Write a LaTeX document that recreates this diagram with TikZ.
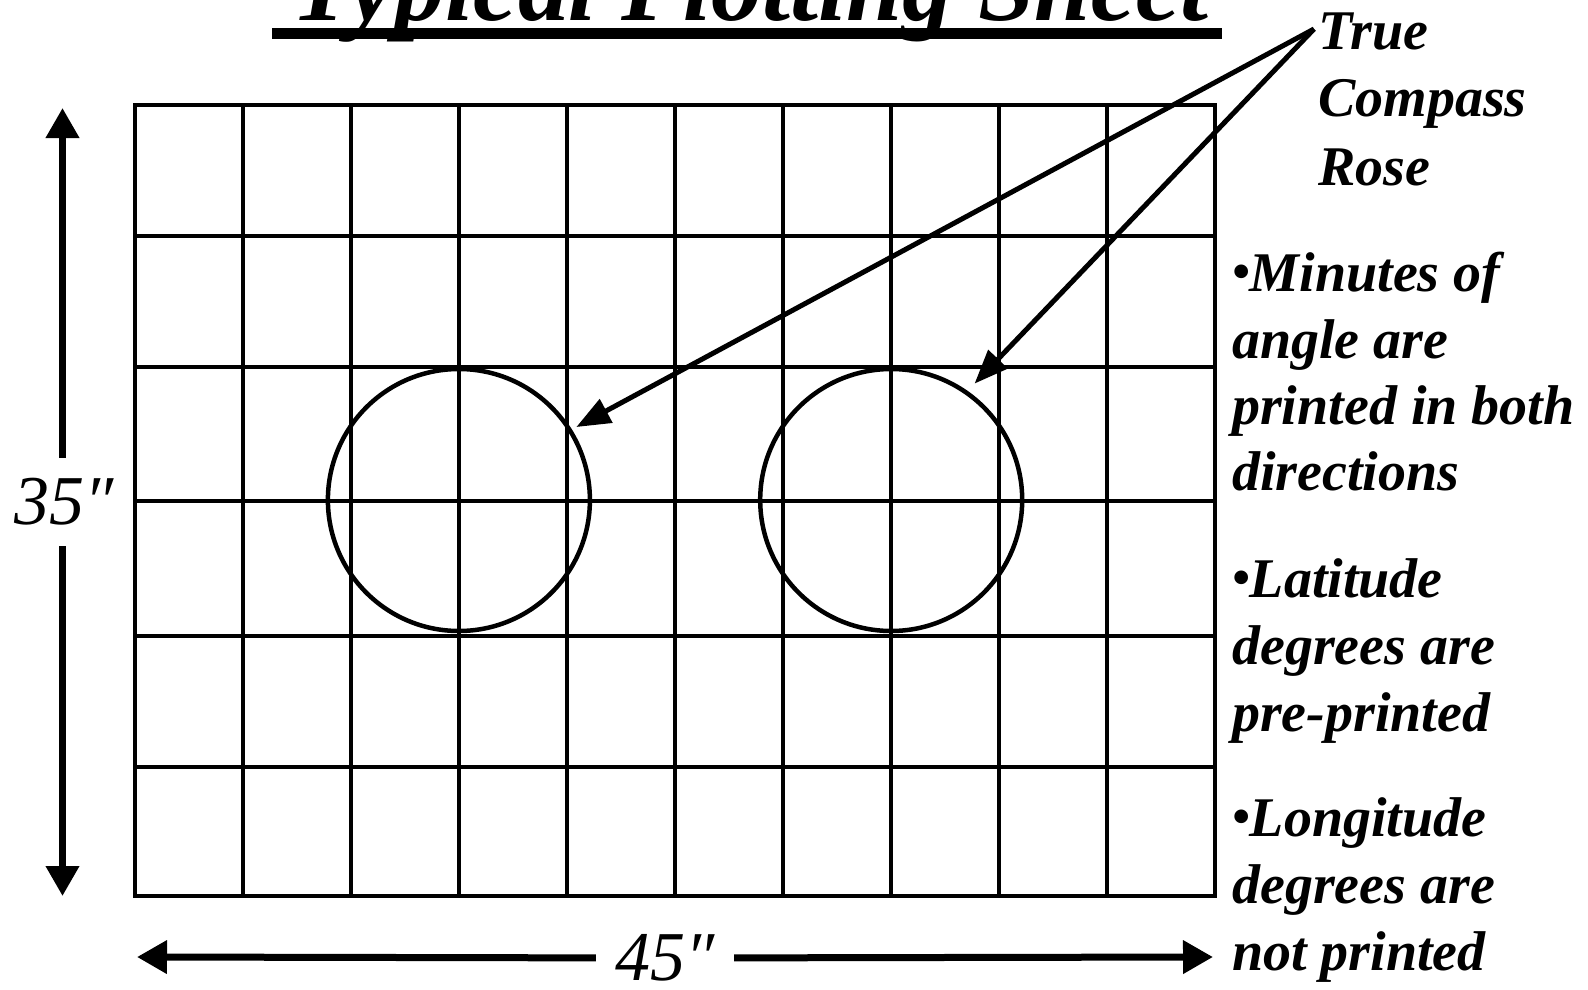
\documentclass[tikz,border=0pt]{standalone}
\usepackage{fontspec}
\setmainfont{Liberation Serif}
\usepackage{graphicx}
\usetikzlibrary{arrows.meta}
\newcommand{\smallbul}{\raisebox{0.04em}{\scalebox{0.9}{•}}}
\begin{document}
\begin{tikzpicture}[x=1pt,y=-1pt,
  gridline/.style={line width=4pt, line cap=rect},
  rose/.style={circle, draw, line width=4.5pt, minimum size=262pt, inner sep=0pt},
  callout/.style={line width=5pt, -{Triangle[length=34pt,width=26pt]}},
  dimarrow/.style={line width=7pt, -{Triangle[length=30pt,width=32pt]}},
  dimlabel/.style={inner sep=0pt, font=\itshape\fontsize{70}{70}\selectfont},
  note/.style={anchor=base west, inner sep=0pt, font=\bfseries\itshape\fontsize{56}{67}\selectfont},
]
\useasboundingbox (0,0) rectangle (1588,990);
\fill[white] (0,0) rectangle (1588,990);

% title
\node[anchor=base, inner sep=0pt, font=\bfseries\itshape\fontsize{101}{101}\selectfont] (title) at (750,21) {Typical Plotting Sheet};
\draw[line width=11pt] (272,33.5) -- (1222,33.5);

% grid
\foreach \i in {0,...,10}
  \draw[gridline] ({134.7+108.07*\i},105.3) -- ({134.7+108.07*\i},896.3);
\foreach \y in {105.3,236,366.6,501.3,636,766.7,896.3}
  \draw[gridline] (134.7,\y) -- (1215.4,\y);

% compass roses
\node[rose] (cL) at (458.9,500) {};
\node[rose] (cR) at (891.2,500) {};

% callout arrows
\coordinate (src) at (1314,29);
\draw[callout, shorten >=5pt] (src) -- (cL.32);
\draw[callout, shorten >=10pt] (src) -- (cR.55);

% dimension 35"
\coordinate (vtop) at (62.5,108);
\coordinate (vbot) at (62.5,896);
\node[dimlabel, minimum height=88pt] (d35) at (64,502) {35″};
\draw[dimarrow] (d35.north -| vtop) -- (vtop);
\draw[dimarrow] (d35.south -| vbot) -- (vbot);

% dimension 45"
\coordinate (hl) at (137,957);
\coordinate (hr) at (1213,957);
\node[dimlabel, minimum width=138pt] (d45) at (665,958) {45″};
\draw[dimarrow] (d45) -- (hl);
\draw[dimarrow] (d45) -- (hr);

% notes
\node[note] (t1) at (1318,50) {True};
\node[note] (t2) at (1318,117) {Compass};
\node[note] (t3) at (1318,185) {Rose};

\node[note] (m1) at (1232,291) {\smallbul Minutes of};
\node[note] (m2) at (1232,358) {angle are};
\node[note] (m3) at (1232,424) {printed in both};
\node[note] (m4) at (1232,490) {directions};

\node[note] (l1) at (1232,597) {\smallbul Latitude};
\node[note] (l2) at (1232,664) {degrees are};
\node[note] (l3) at (1232,731) {pre-printed};

\node[note] (g1) at (1232,836) {\smallbul Longitude};
\node[note] (g2) at (1232,903) {degrees are};
\node[note] (g3) at (1232,970) {not printed};
\end{tikzpicture}
\end{document}
